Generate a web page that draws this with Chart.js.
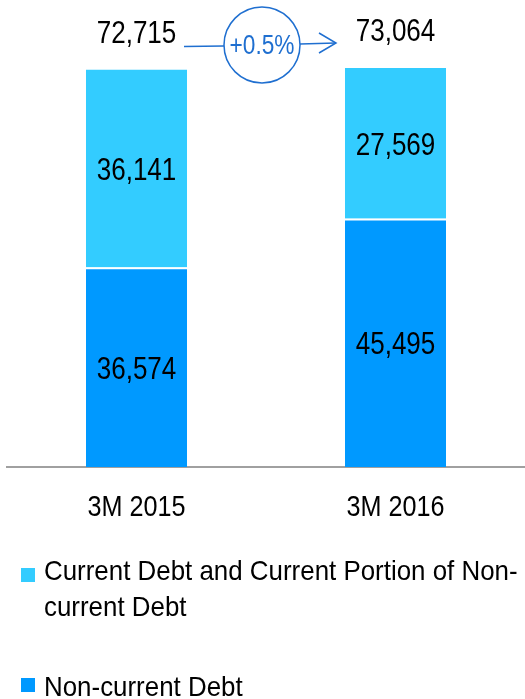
<!DOCTYPE html>
<html>
<head>
<meta charset="utf-8">
<script src="https://cdn.jsdelivr.net/npm/chart.js@4/dist/chart.umd.min.js"></script>
<style>
  html, body { margin: 0; padding: 0; background: #ffffff; }
  #wrap { position: relative; width: 525px; height: 699px; overflow: hidden; }
  #chart { position: absolute; left: 0; top: 0; }
  .leyenda { position: absolute; left: 0; width: 525px; height: 80px; font-family: "Liberation Sans", Arial, sans-serif; font-size: 28px; line-height: 36px; color: #000; }
  .leyenda .cuadro { position: absolute; left: 21px; width: 14px; height: 14px; }
  .leyenda .texto { position: absolute; left: 44px; top: 0; white-space: nowrap; transform: scaleX(0.925); transform-origin: 0 0; }
</style>
</head>
<body>
<div id="wrap">
  <canvas id="chart" width="525" height="699"></canvas>
  <div class="leyenda" id="ley-corriente" style="top:553px"></div>
  <div class="leyenda" id="ley-no-corriente" style="top:669px"></div>
</div>
<script>
const CATEGORIAS = ["3M 2015", "3M 2016"];
const DEUDA_NO_CORRIENTE = [36574, 45495];
const DEUDA_CORRIENTE = [36141, 27569];
const TOTALES = [72715, 73064];
const VARIACION = "+0.5%";
const SERIES = ["Current Debt and Current Portion of Non-\ncurrent Debt", "Non-current Debt"];
const COLOR_CORRIENTE = "#33ccff";
const COLOR_NO_CORRIENTE = "#0099ff";
const COLOR_FLECHA = "#1f6fd0";
const FUENTE = "'Liberation Sans', Arial, sans-serif";
const ESTRECHO = 0.84;

function formatear(valor) {
  return valor.toLocaleString("en-US");
}

// texto algo condensado, como la fuente narrow del original
function textoEstrecho(ctx, texto, x, y) {
  ctx.save();
  ctx.translate(x, y);
  ctx.scale(ESTRECHO, 1);
  ctx.fillText(texto, 0, 0);
  ctx.restore();
}

const pluginEtiquetas = {
  id: "etiquetas",
  afterDatasetsDraw(chart) {
    const { ctx } = chart;
    const y = chart.scales.y;
    const area = chart.chartArea;
    ctx.save();
    ctx.textAlign = "center";
    ctx.textBaseline = "middle";
    ctx.fillStyle = "#000000";
    ctx.font = "31px " + FUENTE;

    chart.data.datasets.forEach((ds, i) => {
      const meta = chart.getDatasetMeta(i);
      meta.data.forEach((barra, j) => {
        const centro = (barra.y + barra.base) / 2;
        textoEstrecho(ctx, formatear(ds.data[j]), barra.x, centro + 3);
      });
    });

    const metaArriba = chart.getDatasetMeta(1);
    TOTALES.forEach((total, j) => {
      const barra = metaArriba.data[j];
      textoEstrecho(ctx, formatear(total), barra.x, y.getPixelForValue(total) - 35);
    });

    // etiquetas del eje x
    ctx.font = "30px " + FUENTE;
    metaArriba.data.forEach((barra, j) => {
      textoEstrecho(ctx, CATEGORIAS[j], barra.x, area.bottom + 41);
    });

    // flecha con el circulo de variacion
    const b1 = metaArriba.data[0];
    const b2 = metaArriba.data[1];
    const cx = (b1.x + b2.x) / 2 - 4;
    const cy = area.top + 15;
    const r = 38;
    const xIni = b1.x + b1.width / 2 - 3;
    const xFin = b2.x - b2.width / 2 - 9;

    ctx.strokeStyle = COLOR_FLECHA;
    ctx.lineWidth = 1.5;
    ctx.beginPath();
    ctx.moveTo(xIni, cy + 1.5);
    ctx.lineTo(cx - r, cy + 1);
    ctx.stroke();
    ctx.beginPath();
    ctx.arc(cx, cy, r, 0, Math.PI * 2);
    ctx.stroke();
    ctx.beginPath();
    ctx.moveTo(cx + r, cy - 1);
    ctx.lineTo(xFin, cy - 2);
    ctx.stroke();
    ctx.beginPath();
    ctx.moveTo(xFin - 17, cy - 12);
    ctx.lineTo(xFin, cy - 2);
    ctx.lineTo(xFin - 17, cy + 8);
    ctx.stroke();

    ctx.fillStyle = COLOR_FLECHA;
    ctx.font = "27px " + FUENTE;
    textoEstrecho(ctx, VARIACION, cx, cy + 2);
    ctx.restore();
  }
};

function crearLeyenda() {
  const items = [
    { id: "ley-corriente", color: COLOR_CORRIENTE, texto: SERIES[0], cuadro: 15 },
    { id: "ley-no-corriente", color: COLOR_NO_CORRIENTE, texto: SERIES[1], cuadro: 9 }
  ];
  items.forEach((item) => {
    const div = document.getElementById(item.id);
    const cuadro = document.createElement("span");
    cuadro.className = "cuadro";
    cuadro.style.background = item.color;
    cuadro.style.top = item.cuadro + "px";
    const texto = document.createElement("span");
    texto.className = "texto";
    item.texto.split("\n").forEach((linea, k) => {
      if (k > 0) texto.appendChild(document.createElement("br"));
      texto.appendChild(document.createTextNode(linea));
    });
    div.appendChild(cuadro);
    div.appendChild(texto);
  });
}

document.addEventListener("DOMContentLoaded", () => {
  crearLeyenda();

  new Chart(document.getElementById("chart"), {
    type: "bar",
    data: {
      labels: CATEGORIAS,
      datasets: [
        {
          label: SERIES[1],
          data: DEUDA_NO_CORRIENTE,
          backgroundColor: COLOR_NO_CORRIENTE,
          borderColor: "#ffffff",
          borderWidth: { top: 2, left: 0, right: 0, bottom: 0 },
          borderSkipped: false
        },
        {
          label: SERIES[0],
          data: DEUDA_CORRIENTE,
          backgroundColor: COLOR_CORRIENTE,
          borderWidth: 0
        }
      ]
    },
    options: {
      responsive: false,
      animation: false,
      layout: {
        padding: { top: 30, left: 7, right: 0, bottom: 232 }
      },
      datasets: {
        bar: { categoryPercentage: 1, barPercentage: 0.39 }
      },
      plugins: {
        legend: { display: false },
        tooltip: { enabled: false }
      },
      scales: {
        x: {
          stacked: true,
          grid: { display: false, drawTicks: false },
          border: { display: true, color: "#a0a0a0", width: 2 },
          ticks: { display: false }
        },
        y: {
          stacked: true,
          display: false,
          min: 0,
          max: 80000
        }
      }
    },
    plugins: [pluginEtiquetas]
  });
});
</script>
</body>
</html>
